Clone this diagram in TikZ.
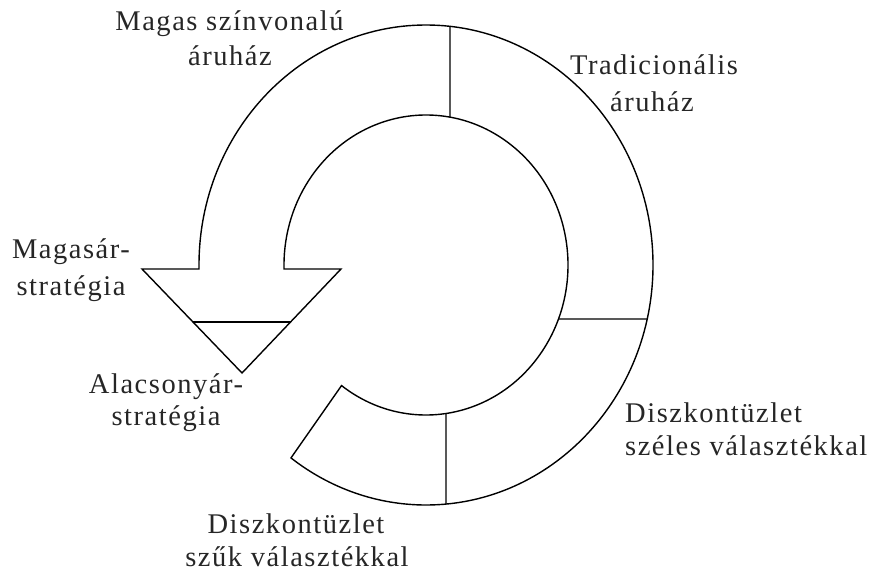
\documentclass[tikz,border=0pt]{standalone}
\usepackage{fontspec}
\setmainfont{Liberation Serif}[LetterSpace=5.4]
\usetikzlibrary{calc}
\begin{document}
\begin{tikzpicture}[x=1pt,y=1pt,
  outline/.style={draw=black,line width=1.4pt,line join=miter},
  divider/.style={draw=black,line width=1.4pt},
  lbl/.style={anchor=base,inner sep=0pt,text=black!85,font=\fontsize{28.5}{34}\selectfont},
  lblw/.style={lbl,anchor=base west}]
\useasboundingbox (0,0) rectangle (872,-572);
\coordinate (C) at (426,-265);
% arrowhead corners
\coordinate (hl) at (142,-269);
\coordinate (hr) at (341,-269);
\coordinate (tip) at (242,-373);
% ring bent into a downward arrow
\draw[outline] (199,-269) -- (199,-265)
  arc[start angle=180,end angle=-126.5,x radius=227pt,y radius=240pt] coordinate (tailout)
  -- ($(C)+(-126.5:142pt and 150pt)$) coordinate (tailin)
  arc[start angle=-126.5,end angle=180,x radius=142pt,y radius=150pt]
  -- (284,-269) -- (hr) -- (tip) -- (hl) -- cycle;
% segment dividers
\coordinate (topo) at ($(C)+(83.93:227pt and 240pt)$);
\coordinate (topi) at ($(C)+(80.27:142pt and 150pt)$);
\coordinate (rgto) at ($(C)+(-13.0:227pt and 240pt)$);
\coordinate (rgti) at ($(C)+(-21.1:142pt and 150pt)$);
\coordinate (boto) at ($(C)+(-84.95:227pt and 240pt)$);
\coordinate (boti) at ($(C)+(-81.9:142pt and 150pt)$);
\draw[divider] (topo) -- (topi);
\draw[divider] (rgto) -- (rgti);
\draw[divider] (boto) -- (boti);
\draw[divider] ($(hl)!0.5096!(tip)$) -- ($(hr)!0.5096!(tip)$);
% labels
\node[lbl] (m1) at (229.5,-31) {Magas színvonalú};
\node[lbl] (m2) at (230,-66) {áruház};
\node[lbl] (t1) at (654,-75) {Tradicionális};
\node[lbl] (t2) at (652,-112) {áruház};
\node[lbl] (h1) at (71,-258) {Magasár-};
\node[lbl] (h2) at (71,-295) {stratégia};
\node[lbl] (a1) at (166,-393) {Alacsonyár-};
\node[lbl] (a2) at (166,-425) {stratégia};
\node[lblw] (w1) at (625,-422) {Diszkontüzlet};
\node[lblw] (w2) at (625,-455) {széles választékkal};
\node[lbl] (n1) at (296,-533) {Diszkontüzlet};
\node[lbl] (n2) at (297,-566) {szűk választékkal};
\end{tikzpicture}
\end{document}
